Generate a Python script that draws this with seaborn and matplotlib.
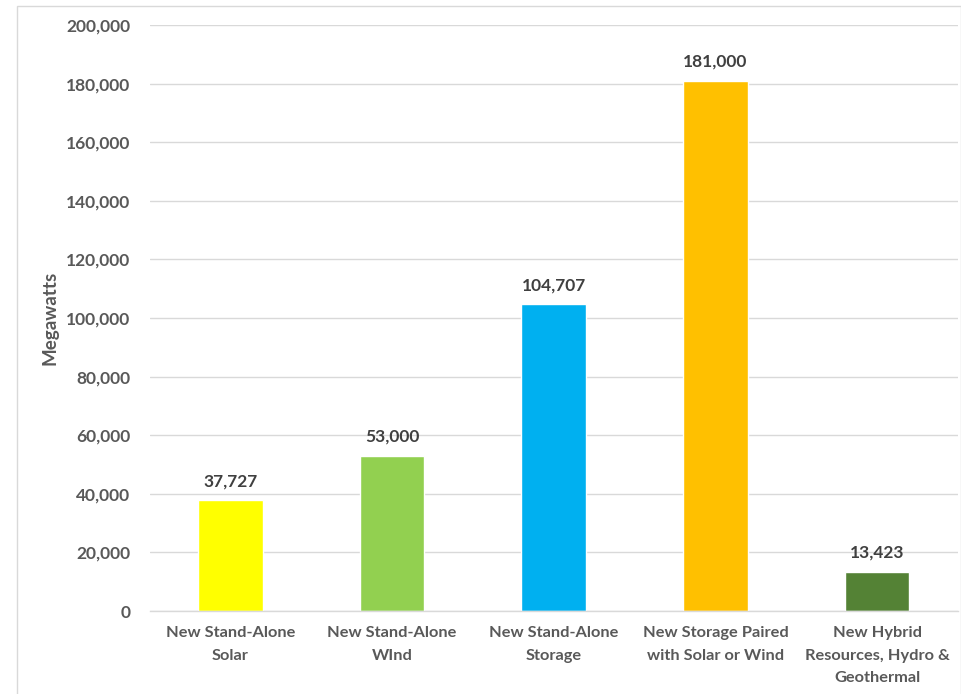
import matplotlib
matplotlib.use("Agg")
import matplotlib.pyplot as plt
import seaborn as sns
import pandas as pd
from matplotlib.patches import Rectangle
from matplotlib.ticker import FuncFormatter

categories = ["New Stand-Alone\nSolar", "New Stand-Alone\nWInd", "New Stand-Alone\nStorage",
              "New Storage Paired\nwith Solar or Wind", "New Hybrid\nResources, Hydro &\nGeothermal"]
values = [37727, 53000, 104707, 181000, 13423]
colors = ["#FFFF00", "#92D050", "#00B0F0", "#FFC000", "#548235"]
yticks = [0, 20000, 40000, 60000, 80000, 100000, 120000, 140000, 160000, 180000, 200000]

sns.set_theme(style="white")
plt.rcParams['font.family'] = ['Lato', 'DejaVu Sans']
text_color = "#595959"

df = pd.DataFrame({"cat": categories, "val": values})

fig = plt.figure(figsize=(9.62, 6.94), dpi=100)
ax = fig.add_axes([149.6/962, (694-611)/694, (958-149.6)/962, (611-25)/694])

sns.barplot(data=df, x="cat", y="val", hue="cat", palette=colors, legend=False,
            width=0.4, ax=ax, saturation=1)

ax.set_ylim(0, 200000)
ax.set_xlim(-0.5, len(categories) - 0.5)
ax.set_yticks(yticks)
ax.yaxis.set_major_formatter(FuncFormatter(lambda v, p: f"{int(v):,}"))
ax.grid(axis="y", color="#D9D9D9", linewidth=1)
ax.set_axisbelow(True)
for s in ["top", "right", "left"]:
    ax.spines[s].set_visible(False)
ax.spines["bottom"].set_color("#D9D9D9")
ax.spines["bottom"].set_linewidth(1)
ax.tick_params(axis="both", length=0, colors=text_color)
ax.tick_params(axis="y", pad=14)
ax.tick_params(axis="x", pad=11)
for lbl in ax.get_yticklabels():
    lbl.set_fontsize(12.5)
    lbl.set_fontweight("bold")
for lbl in ax.get_xticklabels():
    lbl.set_fontsize(11.8)
    lbl.set_fontweight("bold")
    lbl.set_linespacing(1.75)
    lbl.set_va("top")

ax.set_xlabel("")
ax.set_ylabel("")
fig.text(50/962, 1 - 318/694, "Megawatts", rotation=90, ha="center", va="center",
         fontsize=13.5, fontweight="bold", color=text_color)

for i, v in enumerate(values):
    ax.annotate(f"{v:,}", (i, v), xytext=(0, 8), textcoords="offset points",
                ha="center", va="bottom", fontsize=12.5, fontweight="bold", color="#404040")

fig.patches.append(Rectangle((17/962, -0.05), (962-17)/962 - 0.001, (694-6)/694 + 0.05,
                             transform=fig.transFigure, fill=False, edgecolor="#D9D9D9",
                             linewidth=1, zorder=0))

fig.savefig("out.png", dpi=100)
